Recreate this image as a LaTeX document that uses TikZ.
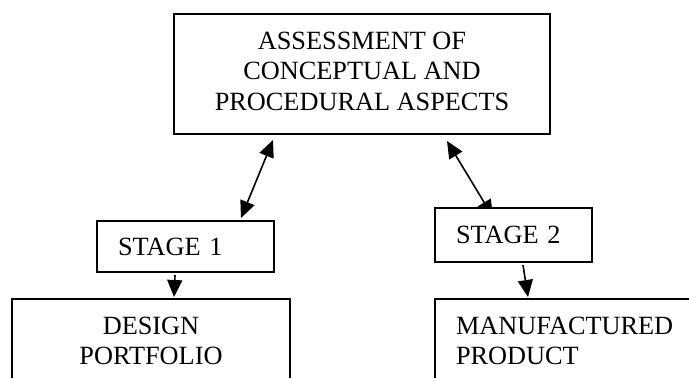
\documentclass[tikz,border=0pt]{standalone}
\usepackage{fontspec}
\setmainfont{Liberation Serif}
\usetikzlibrary{arrows.meta,backgrounds}
\begin{document}
\begin{tikzpicture}[x=1pt,y=-1pt,
  box/.style={draw, line width=2pt, fill=white, inner sep=0pt,
    font=\fontsize{26.3}{30.4}\selectfont},
  conn/.style={line width=1.6pt, -{Triangle[length=17pt,width=15pt]}},
  biconn/.style={line width=1.6pt, {Triangle[length=17pt,width=15pt]}-{Triangle[length=17pt,width=15pt]}}]
\useasboundingbox (0,0) rectangle (689,378);
\clip (0,0) rectangle (689,378);
\node[box, minimum width=376pt, minimum height=120pt, align=center, text depth=6pt] (top) at (362,74)
  {ASSESSMENT OF\\CONCEPTUAL AND\\PROCEDURAL ASPECTS};
\node[box, anchor=north west, text width=135pt, inner xsep=21pt, minimum height=51pt, align=left] (s1) at (96,220) {STAGE 1};
\node[box, anchor=north west, text width=115pt, inner xsep=21pt, minimum height=54pt, align=left] (s2) at (434,207) {STAGE 2};
\node[box, minimum width=278pt, minimum height=84pt, align=center] (d) at (151,341) {DESIGN\\PORTFOLIO};
\node[box, anchor=west, text width=230pt, inner xsep=21pt, minimum height=84pt, align=left] (m) at (434,341) {MANUFACTURED\\PRODUCT};
\begin{scope}[on background layer]
\draw[biconn] ([xshift=55.5pt,yshift=2pt]s1.north) -- ([xshift=-89pt,yshift=-5pt]top.south);
\draw[biconn] ([xshift=-20.5pt,yshift=-10pt]s2.north) -- ([xshift=85pt,yshift=-6pt]top.south);
\draw[conn] ([xshift=-10.5pt,yshift=-2pt]s1.south) -- ([xshift=23pt,yshift=1pt]d.north);
\draw[conn] ([xshift=9.5pt,yshift=-2pt]s2.south) -- ([xshift=-43pt,yshift=1pt]m.north);
\end{scope}
\end{tikzpicture}
\end{document}
